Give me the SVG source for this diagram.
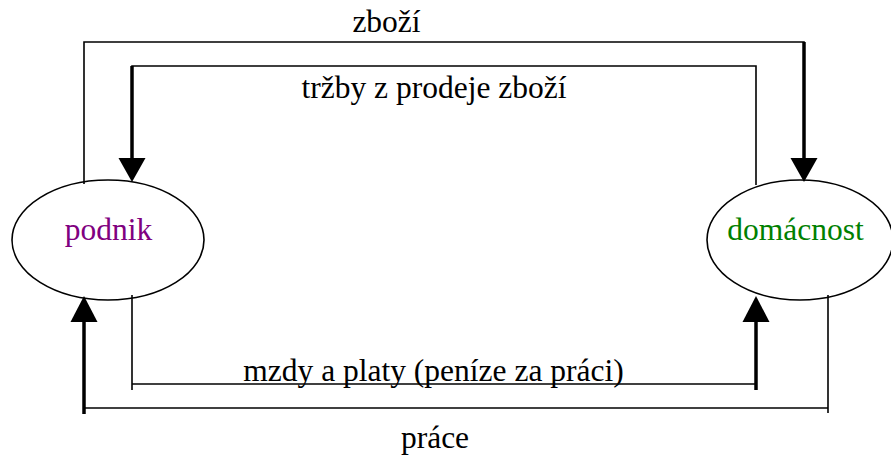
<svg xmlns="http://www.w3.org/2000/svg" width="891" height="456" viewBox="0 0 891 456">
<style>
.thin{fill:none;stroke:#000;stroke-width:1.6}
.thick{fill:none;stroke:#000;stroke-width:3.5}
.head{fill:#000}
.node{fill:#fff;stroke:#000;stroke-width:1.6}
.t{font-family:'Liberation Serif','DejaVu Serif',serif;font-size:31.5px;text-anchor:middle}
</style>
<rect width="891" height="456" fill="#fff"/>
<g id="podnik">
<ellipse class="node" cx="108" cy="240" rx="96" ry="60"/>
<text class="t" x="108.5" y="240" fill="#800080">podnik</text>
</g>
<g id="domacnost">
<ellipse class="node" cx="800" cy="240" rx="93" ry="60"/>
<text class="t" x="795.5" y="240" fill="#008000">domácnost</text>
</g>
<g id="connectors">
<polyline class="thin" points="84,184 84,42 804,42 804,60"/>
<line class="thick" x1="804" y1="42" x2="804" y2="160"/>
<polygon class="head" points="790.5,158 817.5,158 804,182"/>
<polyline class="thin" points="756,185 756,66 132,66 132,80"/>
<line class="thick" x1="132" y1="66" x2="132" y2="160"/>
<polygon class="head" points="118.5,158 145.5,158 132,182"/>
<polyline class="thin" points="132,295 132,390"/>
<line class="thin" x1="132" y1="384" x2="756" y2="384"/>
<line class="thick" x1="756" y1="390" x2="756" y2="320"/>
<polygon class="head" points="742.5,322 769.5,322 756,296"/>
<polyline class="thin" points="828,295 828,413"/>
<line class="thin" x1="84" y1="408" x2="828" y2="408"/>
<line class="thick" x1="84" y1="414" x2="84" y2="320"/>
<polygon class="head" points="70.5,322 97.5,322 84,296"/>
<text class="t" x="386.5" y="32">zboží</text>
<text class="t" x="434" y="98">tržby z prodeje zboží</text>
<text class="t" x="433.5" y="381">mzdy a platy (peníze za práci)</text>
<text class="t" x="435" y="448">práce</text>
</g>
</svg>
